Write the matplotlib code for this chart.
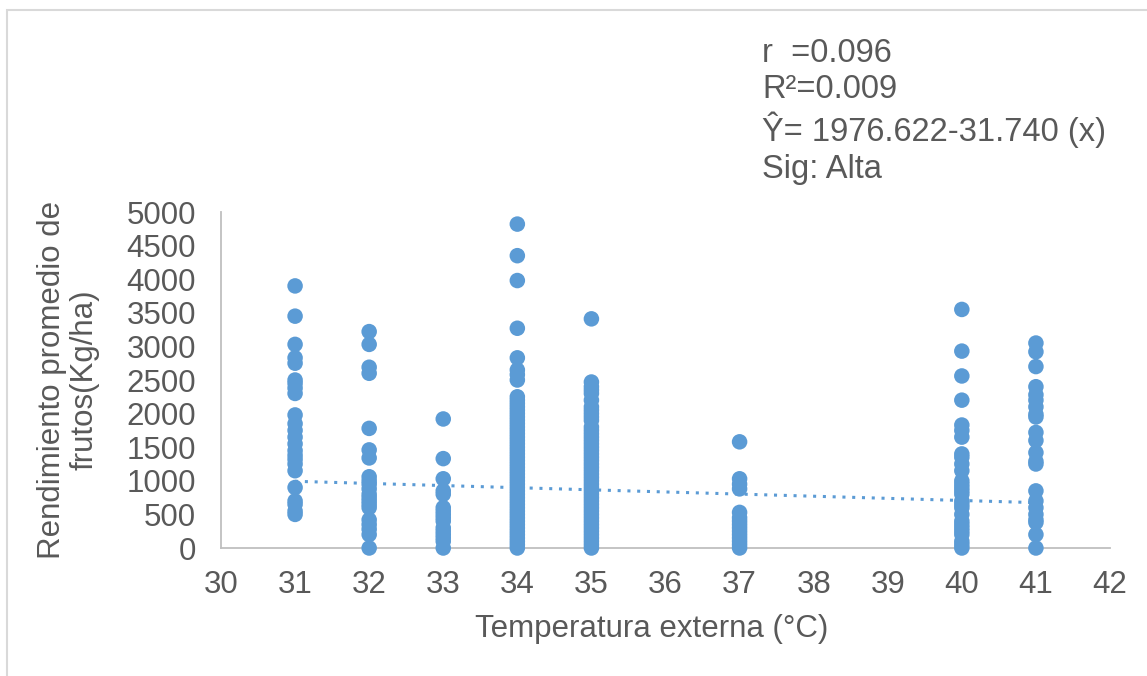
import matplotlib
matplotlib.use("Agg")
import matplotlib.pyplot as plt
from matplotlib.patches import Rectangle

plt.rcParams['font.family'] = ['Liberation Sans', 'DejaVu Sans']

# rendimiento (Kg/ha) por temperatura externa (°C)
temp_31 = [3900, 3450, 3030, 2830, 2750, 2500, 2450, 2380, 2300, 1980, 1850, 1750,
           1650, 1550, 1450, 1380, 1320, 1250, 1150, 900, 700, 650, 550, 500]
temp_32 = [3220, 3030, 2690, 2600, 1780, 1460, 1340, 1060, 1000, 950, 880, 800,
           750, 700, 650, 600, 420, 350, 280, 200, 0]
temp_33 = [1920, 1330, 1030, 850, 800, 600, 550, 500, 450, 400, 300, 250, 200,
           150, 100, 0]
temp_34 = [4820, 4350, 3980, 3270, 2830, 2650, 2580, 2500, 2250, 2200, 2150, 2100,
           2050, 2000, 1950, 1900, 1850, 1800, 1750, 1700, 1650, 1600, 1550, 1500,
           1450, 1400, 1350, 1300, 1250, 1200, 1150, 1100, 1050, 1000, 950, 900,
           850, 800, 750, 700, 650, 600, 550, 500, 450, 400, 350, 300, 250, 200,
           150, 100, 50, 0]
temp_35 = [3410, 2470, 2400, 2350, 2300, 2200, 2100, 2050, 2000, 1950, 1900, 1800,
           1750, 1700, 1650, 1600, 1550, 1500, 1450, 1400, 1350, 1300, 1250, 1200,
           1150, 1100, 1050, 1000, 950, 900, 850, 800, 750, 700, 650, 600, 550,
           500, 450, 400, 350, 300, 250, 200, 150, 100, 50, 0]
temp_37 = [1580, 1030, 950, 880, 530, 450, 400, 350, 300, 250, 200, 150, 100, 50, 0]
temp_40 = [3550, 2930, 2560, 2200, 1830, 1750, 1650, 1400, 1350, 1250, 1150, 1000,
           950, 900, 850, 800, 700, 650, 600, 500, 400, 350, 300, 250, 200, 100, 50, 0]
temp_41 = [3050, 2920, 2700, 2400, 2280, 2200, 2100, 1990, 1950, 1720, 1600, 1420,
           1290, 1250, 850, 700, 600, 500, 420, 380, 200, 0]

groups = {31: temp_31, 32: temp_32, 33: temp_33, 34: temp_34,
          35: temp_35, 37: temp_37, 40: temp_40, 41: temp_41}

# recta de regresion
intercepto = 1976.622
pendiente = -31.740
x_linea = [31, 41]

stats_text = "r  =0.096\nR²=0.009\nŶ= 1976.622-31.740 (x)\nSig: Alta"

azul = '#5B9BD5'
gris = '#595959'
fs = 22.5

fig = plt.figure(figsize=(11.47, 6.76), dpi=100)
ax = fig.add_axes([221 / 1147, 1 - 548 / 676, (1110 - 221) / 1147, (548 - 212) / 676])

for t, vals in groups.items():
    ax.scatter([t] * len(vals), vals, s=125, color=azul, edgecolors='none',
               zorder=3, clip_on=False)

ax.plot(x_linea, [intercepto + pendiente * x for x in x_linea],
        linestyle=(0, (1, 2.2)), color=azul, linewidth=2.2, zorder=4)

ax.set_xlim(30, 42)
ax.set_ylim(0, 5000)
ax.set_xticks(range(30, 43))
ax.set_yticks(range(0, 5001, 500))
ax.tick_params(length=0, labelsize=fs, colors=gris)
ax.tick_params(axis='x', pad=16)
ax.tick_params(axis='y', pad=18)
for side in ('top', 'right'):
    ax.spines[side].set_visible(False)
for side in ('left', 'bottom'):
    ax.spines[side].set_color('#BFBFBF')
    ax.spines[side].set_linewidth(1.3)

ax.set_xlabel("Temperatura externa (°C)", fontsize=fs, color=gris)
ax.xaxis.set_label_coords((652 - 221) / 889, -(614 - 548) / 336)
ax.set_ylabel("Rendimiento promedio de\nfrutos(Kg/ha)", fontsize=fs, color=gris,
              linespacing=1.1)
ax.yaxis.set_label_coords(-(221 - 99) / 889, 0.5)

fig.text(762 / 1147, 1 - 38 / 676, stats_text, fontsize=23.5, color=gris,
         va='top', ha='left', linespacing=1.22)

fig.patches.append(Rectangle((7 / 1147, -0.05), 1.1, 1 - 9.5 / 676 + 0.05,
                             transform=fig.transFigure, fill=False,
                             edgecolor='#D9D9D9', linewidth=1.5))

fig.savefig("out.png", dpi=100)
